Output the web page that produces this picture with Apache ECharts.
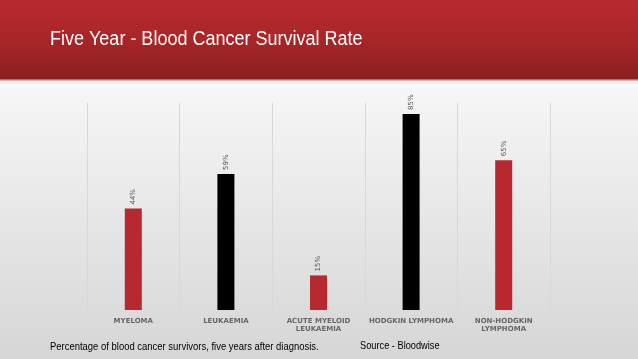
<!DOCTYPE html>
<html>
<head>
<meta charset="utf-8">
<style>
html,body{margin:0;padding:0;width:638px;height:359px;overflow:hidden;}
#c{width:638px;height:359px;}
</style>
<script src="https://cdn.jsdelivr.net/npm/echarts@6/dist/echarts.min.js"></script>
</head>
<body>
<div id="c"></div>
<script>
const categories = ['MYELOMA', 'LEUKAEMIA', 'ACUTE MYELOID\nLEUKAEMIA', 'HODGKIN LYMPHOMA', 'NON-HODGKIN\nLYMPHOMA'];
const survival = [44, 59, 15, 85, 65];
const barColors = ['#b7292f', '#000000', '#b7292f', '#000000', '#b7292f'];
const titleText = 'Five Year - Blood Cancer Survival Rate';
const footnote = 'Percentage of blood cancer survivors, five years after diagnosis.';
const sourceText = 'Source - Bloodwise';

const chart = echarts.init(document.getElementById('c'), null, {renderer: 'canvas'});
chart.setOption({
  animation: false,
  backgroundColor: {
    type: 'linear', x: 0, y: 0, x2: 0, y2: 1,
    colorStops: [{offset: 0, color: '#f4f4f4'}, {offset: 0.25, color: '#f6f6f6'}, {offset: 1, color: '#d6d6d6'}]
  },
  graphic: [
    {
      type: 'rect', left: 0, top: 0, z: -1,
      shape: {width: 638, height: 79},
      style: {
        fill: {
          type: 'linear', x: 0, y: 0, x2: 0, y2: 1,
          colorStops: [{offset: 0, color: '#b92a30'}, {offset: 0.5, color: '#a82528'}, {offset: 1, color: '#8b1f22'}]
        }
      }
    },
    {
      type: 'rect', left: 0, top: 79, z: -1,
      shape: {width: 638, height: 1.5},
      style: {fill: '#c46a6c'}
    },
    {
      type: 'text', x: 50, y: 39.5, scaleX: 0.9,
      style: {text: titleText, x: 0, y: 0, fill: '#ffffff', verticalAlign: 'middle',
        font: '20px "Liberation Sans", Arial, sans-serif'}
    },
    {
      type: 'text', x: 50, y: 347, scaleX: 0.86,
      style: {text: footnote, x: 0, y: 0, fill: '#000000', verticalAlign: 'middle',
        font: '11px "Liberation Sans", Arial, sans-serif'}
    },
    {
      type: 'text', x: 360, y: 345.5, scaleX: 0.84,
      style: {text: sourceText, x: 0, y: 0, fill: '#000000', verticalAlign: 'middle',
        font: '11px "Liberation Sans", Arial, sans-serif'}
    }
  ],
  grid: {left: 87, right: 88, top: 102.5, bottom: 49, containLabel: false},
  xAxis: {
    type: 'category',
    data: categories,
    axisLine: {show: false},
    axisTick: {show: false},
    splitLine: {show: true, lineStyle: {color: '#d8d8d8', width: 1}},
    axisLabel: {
      color: '#666666', fontSize: 7, fontWeight: 'bold', margin: 7, lineHeight: 8,
      fontFamily: '"DejaVu Sans", sans-serif', interval: 0
    }
  },
  yAxis: {
    type: 'value', min: 0, max: 90,
    show: false,
    splitLine: {show: false}
  },
  series: [{
    type: 'bar',
    data: survival.map((v, i) => ({value: v, itemStyle: {color: barColors[i]}})),
    barWidth: 17,
    label: {
      show: true, position: 'top', rotate: 90, distance: 4,
      align: 'left', verticalAlign: 'middle',
      formatter: '{c}%', color: '#595959', fontSize: 7,
      fontFamily: '"DejaVu Sans", sans-serif'
    }
  }]
});
</script>
</body>
</html>
